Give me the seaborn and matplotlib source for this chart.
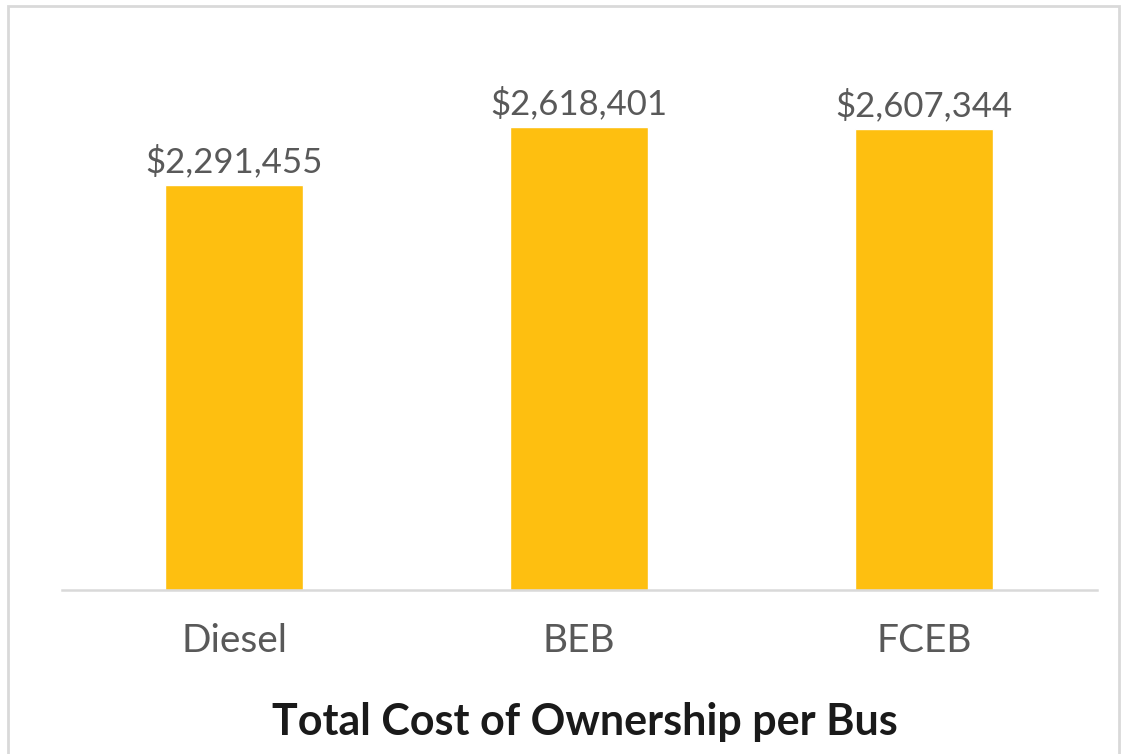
import matplotlib
matplotlib.use("Agg")
import matplotlib.pyplot as plt
from matplotlib.patches import Rectangle
import seaborn as sns
import pandas as pd

categories = ["Diesel", "BEB", "FCEB"]
costs = [2291455, 2618401, 2607344]
title = "Total Cost of Ownership per Bus"

sns.set_theme(style="white")
plt.rcParams["font.family"] = ["Lato", "DejaVu Sans"]

df = pd.DataFrame({"category": categories, "cost": costs})

fig = plt.figure(figsize=(11.27, 7.54), dpi=100)
ax = fig.add_axes([0.055, 0.2175, 0.918, 0.703])

sns.barplot(data=df, x="category", y="cost", color="#FEBF10",
            saturation=1, width=0.4, ax=ax)

ax.set_ylim(0, 3000000)
ax.set_xlim(-0.5, 2.5)

for patch, val in zip(ax.patches, costs):
    ax.annotate(f"${val:,.0f}",
                (patch.get_x() + patch.get_width() / 2, patch.get_height()),
                xytext=(0, 5), textcoords="offset points",
                ha="center", va="bottom", fontsize=25, color="#595959")

for side in ["top", "right", "left"]:
    ax.spines[side].set_visible(False)
ax.spines["bottom"].set_color("#d9d9d9")
ax.spines["bottom"].set_linewidth(1.8)
ax.set_yticks([])
ax.set_xlabel("")
ax.set_ylabel("")
ax.tick_params(axis="x", length=0, pad=24, labelsize=28, labelcolor="#595959")

fig.text(0.519, 0.043, title, ha="center", va="center",
         fontsize=31, fontweight="bold", color="#1a1a1a")

# Light chart-area border
fig.patches.append(Rectangle((0.007, -0.02), 0.986, 1.012, transform=fig.transFigure,
                             fill=False, edgecolor="#d9d9d9", linewidth=2))

fig.savefig("out.png", dpi=100, facecolor="white")
